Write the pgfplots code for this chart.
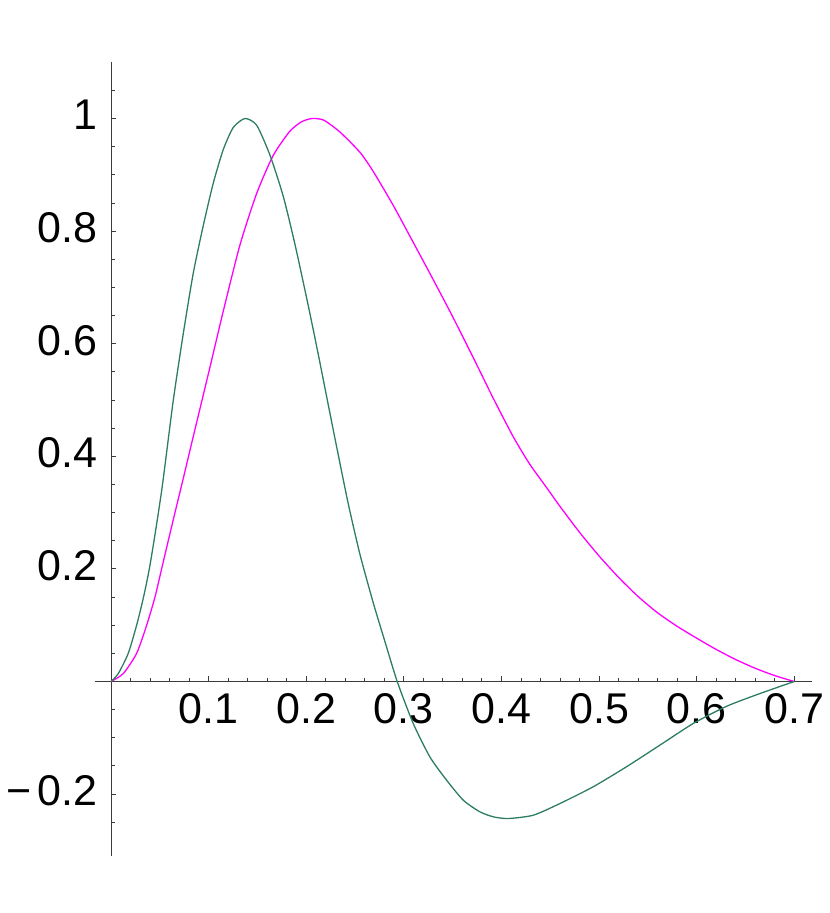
\documentclass[border=0pt]{standalone}
\usepackage{fontspec}
\setmainfont{Liberation Sans}
\usepackage{pgfplots}
\pgfplotsset{compat=1.18}
\definecolor{mgreen}{RGB}{45,125,100}
\definecolor{mpink}{RGB}{255,0,255}
\definecolor{axgray}{RGB}{60,60,60}
\begin{document}
\begin{tikzpicture}
\begin{axis}[
  x=488bp, y=281.5bp,
  axis lines=middle,
  axis line style={-, axgray, line width=0.55bp},
  xmin=-0.0165, xmax=0.718, ymin=-0.31, ymax=1.1,
  clip=false,
  xtick={0.1,0.2,0.3,0.4,0.5,0.6,0.7},
  xticklabels={0.1,0.2,0.3,0.4,0.5,0.6,0.7},
  minor xtick={0.02,0.04,0.06,0.08,0.12,0.14,0.16,0.18,0.22,0.24,0.26,0.28,0.32,0.34,0.36,0.38,0.42,0.44,0.46,0.48,0.52,0.54,0.56,0.58,0.62,0.64,0.66,0.68},
  ytick={-0.2,0.2,0.4,0.6,0.8,1},
  yticklabels={{−\kern3bp0.2},0.2,0.4,0.6,0.8,1},
  minor ytick={-0.25,-0.15,-0.1,-0.05,0.05,0.1,0.15,0.25,0.3,0.35,0.45,0.5,0.55,0.65,0.7,0.75,0.85,0.9,0.95,1.05},
  tick align=inside,
  major tick length=2.6bp, minor tick length=1.8bp,
  tick style={axgray, line width=0.45bp},
  ticklabel style={font=\fontsize{21.5bp}{25bp}\selectfont, inner sep=0pt},
  xticklabel style={anchor=north, yshift=-6bp},
  yticklabel style={anchor=east, xshift=-6.5bp, yshift=1.7bp},
]
\path (axis cs:-0.1138,-0.4112) rectangle (axis cs:0.7365,1.2105);
\addplot[mpink, line width=0.65bp, smooth, tension=0.4] coordinates {
(0,0) (0.0125,0.014) (0.0262,0.05) (0.0365,0.10) (0.045,0.15) (0.0518,0.20)
(0.0586,0.25) (0.0655,0.30) (0.075,0.368) (0.0842,0.435) (0.1013,0.558)
(0.115,0.658) (0.132,0.775) (0.149,0.866) (0.166,0.934) (0.183,0.977)
(0.195,0.994) (0.206,1.0) (0.218,0.997) (0.2345,0.976) (0.255,0.940)
(0.2686,0.906) (0.289,0.846) (0.3096,0.780) (0.330,0.714) (0.3506,0.646)
(0.3746,0.563) (0.3916,0.503) (0.412,0.435) (0.429,0.386) (0.446,0.345)
(0.46,0.311) (0.48,0.265) (0.50,0.223) (0.52,0.185) (0.54,0.151)
(0.56,0.122) (0.58,0.098) (0.60,0.077) (0.62,0.057) (0.64,0.039)
(0.66,0.0235) (0.68,0.0105) (0.70,0)
};
\addplot[mgreen, line width=0.65bp, smooth, tension=0.4] coordinates {
(0,0) (0.0074,0.014) (0.0176,0.05) (0.0262,0.10) (0.0333,0.15) (0.0392,0.20)
(0.0440,0.25) (0.0485,0.30) (0.0533,0.3575) (0.0638,0.50) (0.074,0.618)
(0.0842,0.725) (0.0945,0.81) (0.1047,0.885) (0.115,0.945) (0.1252,0.984)
(0.1372,1.0) (0.1492,0.988) (0.1628,0.935) (0.1764,0.862) (0.1885,0.776)
(0.202,0.668) (0.2115,0.588) (0.221,0.505) (0.231,0.418) (0.243,0.316)
(0.255,0.226) (0.2686,0.140) (0.2806,0.071) (0.2932,0) (0.3096,-0.0746)
(0.3267,-0.134) (0.3438,-0.1753) (0.361,-0.211) (0.378,-0.2316) (0.392,-0.2405)
(0.407,-0.2434) (0.4326,-0.2375) (0.46,-0.2167) (0.494,-0.187) (0.528,-0.1516)
(0.5624,-0.113) (0.5965,-0.0746) (0.6307,-0.044) (0.665,-0.0213) (0.70,0)
};
\end{axis}
\end{tikzpicture}
\end{document}
